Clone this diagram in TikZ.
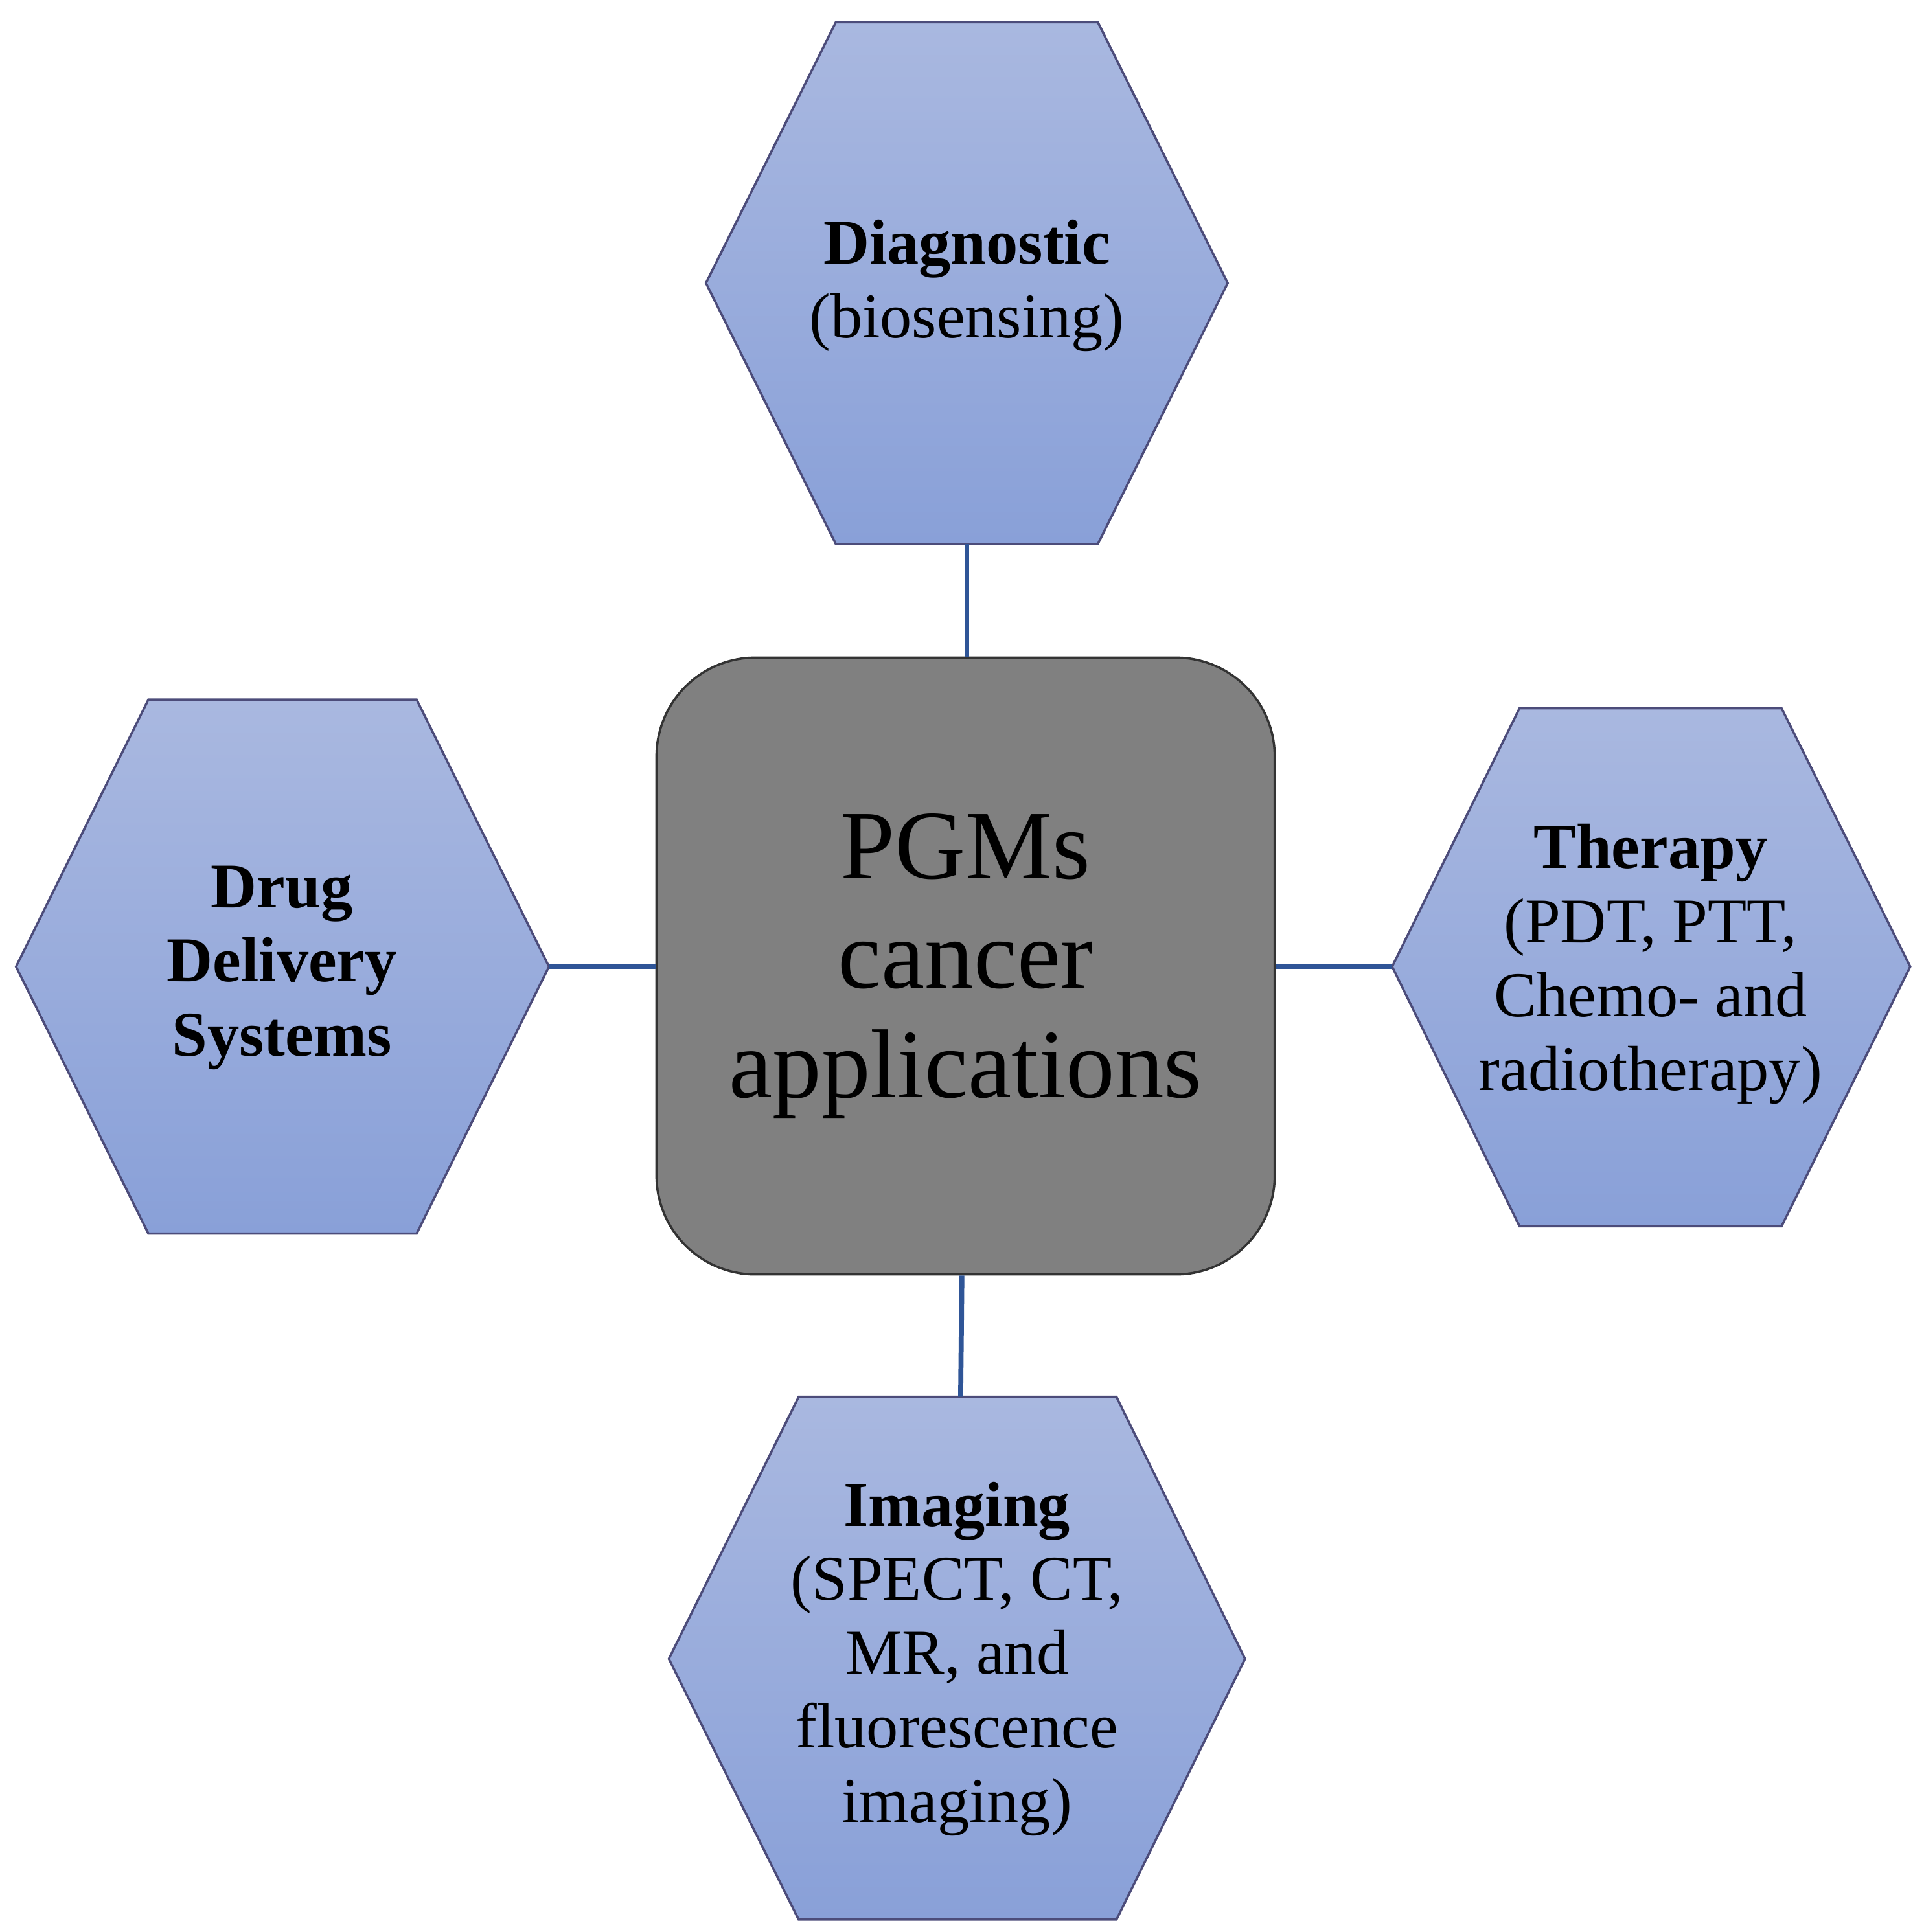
\documentclass[tikz,border=0pt]{standalone}
\usepackage{fontspec}
\setmainfont{Liberation Serif}
\begin{document}
\begin{tikzpicture}[x=0.01909cm,y=-0.01909cm,
  hex/.style={draw=black!55!blue!40!gray, line width=1pt, top color=hexTop, bottom color=hexBot},
  conn/.style={draw=linkBlue, line width=2.2pt},
  lab/.style={align=center, font=\fontsize{28}{32.5}\selectfont, text=black}]
\definecolor{hexTop}{HTML}{A9B8E0}
\definecolor{hexBot}{HTML}{89A0D8}
\definecolor{linkBlue}{HTML}{2F5597}
\useasboundingbox (0,0) rectangle (1556,1563);
% hexagons
\path[hex] (676,18)--(888,18)--(993,229)--(888,440)--(676,440)--(571,229)--cycle;
\path[hex] (120,566)--(337,566)--(444,782)--(337,998)--(120,998)--(13,782)--cycle;
\path[hex] (1229,573)--(1441,573)--(1545,782)--(1441,992)--(1229,992)--(1126,782)--cycle;
\path[hex] (646,1130)--(903,1130)--(1007,1342)--(903,1553)--(646,1553)--(541,1342)--cycle;
% center
\node[draw=black!80, line width=1pt, fill=black!50, rounded corners=80*0.01909cm,
  minimum width=500*0.01909cm, minimum height=499*0.01909cm, align=center,
  font=\fontsize{43}{48}\selectfont] (c) at (781,781.5) {PGMs\\cancer\\applications};
% coordinates
\coordinate (tb) at (782,440); \coordinate (lr) at (444,782);
\coordinate (rl) at (1126,782); \coordinate (bt) at (777,1130);
\draw[conn] (tb) -- (c.north -| tb);
\draw[conn] (lr) -- (c.west |- lr);
\draw[conn] (c.east |- rl) -- (rl);
\draw[conn] (c.south -| 778,0) -- (bt);
% labels
\node[lab] (d) at (782,231) {\textbf{Diagnostic}\\(biosensing)};
\node[lab] (dd) at (228,783) {\textbf{Drug}\\\textbf{Delivery}\\\textbf{Systems}};
\node[lab] (t) at (1335,780) {\textbf{Therapy}\\(PDT, PTT,\\Chemo- and\\radiotherapy)};
\node[lab] (im) at (774,1342) {\textbf{Imaging}\\(SPECT, CT,\\MR, and\\fluorescence\\imaging)};
\end{tikzpicture}
\end{document}
